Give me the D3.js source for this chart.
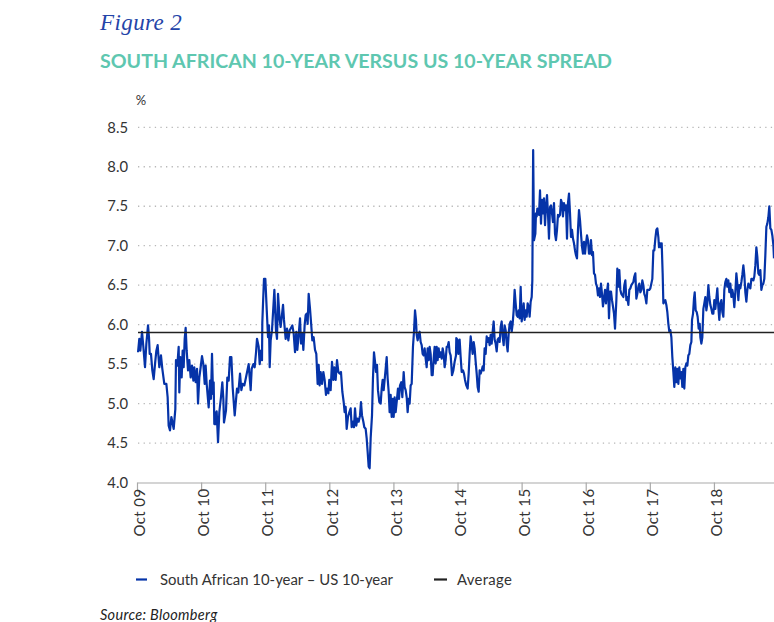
<!DOCTYPE html>
<html>
<head>
<meta charset="utf-8">
<script src="https://cdn.jsdelivr.net/npm/d3@7"></script>
<style>
  html, body { margin: 0; padding: 0; background: #fff; }
  svg { display: block; }
</style>
</head>
<body>
<svg id="chart" width="774" height="622"></svg>
<script>
// ---- DATA (decimal years, % spread) ----
const dates = [
2009.766,2009.786,2009.802,2009.828,2009.849,2009.875,2009.896,2009.922,2009.937,2009.948,2009.968,2009.989,
2010.010,2010.031,2010.052,2010.072,2010.098,2010.124,2010.145,2010.176,2010.208,2010.228,2010.244,2010.265,
2010.286,2010.322,2010.348,2010.358,2010.379,2010.400,2010.410,2010.426,2010.447,2010.462,2010.478,2010.494,
2010.509,2010.525,2010.546,2010.566,2010.587,2010.608,2010.629,2010.644,2010.665,2010.686,2010.702,2010.722,
2010.743,2010.764,2010.785,2010.806,2010.821,2010.837,2010.868,2010.889,2010.904,2010.920,2010.936,2010.946,
2010.956,2010.967,2010.977,2010.993,2011.014,2011.034,2011.060,2011.081,2011.097,2011.107,2011.138,2011.159,
2011.180,2011.201,2011.222,2011.242,2011.274,2011.294,2011.310,2011.331,2011.357,2011.378,2011.398,2011.424,
2011.450,2011.492,2011.523,2011.539,2011.565,2011.586,2011.607,2011.622,2011.648,2011.664,2011.684,2011.700,
2011.705,2011.716,2011.731,2011.752,2011.773,2011.794,2011.809,2011.820,2011.835,2011.856,2011.893,2011.918,
2011.934,2011.950,2011.976,2011.991,2012.028,2012.043,2012.069,2012.090,2012.111,2012.132,2012.173,2012.194,
2012.215,2012.235,2012.251,2012.272,2012.293,2012.308,2012.329,2012.345,2012.365,2012.381,2012.397,2012.412,
2012.428,2012.449,2012.464,2012.485,2012.506,2012.527,2012.547,2012.568,2012.584,2012.599,2012.615,2012.636,
2012.657,2012.677,2012.698,2012.714,2012.735,2012.750,2012.771,2012.792,2012.813,2012.828,2012.849,2012.870,
2012.891,2012.911,2012.932,2012.953,2012.974,2012.989,2013.005,2013.021,2013.041,2013.062,2013.083,2013.099,
2013.119,2013.135,2013.151,2013.171,2013.187,2013.208,2013.229,2013.244,2013.260,2013.281,2013.296,2013.317,
2013.333,2013.348,2013.364,2013.379,2013.395,2013.416,2013.431,2013.447,2013.463,2013.478,2013.494,2013.509,
2013.530,2013.551,2013.567,2013.582,2013.598,2013.613,2013.629,2013.645,2013.660,2013.676,2013.691,2013.707,
2013.723,2013.738,2013.754,2013.769,2013.785,2013.806,2013.821,2013.837,2013.853,2013.873,2013.889,2013.910,
2013.925,2013.941,2013.957,2013.972,2013.988,2014.003,2014.019,2014.035,2014.055,2014.071,2014.087,2014.102,
2014.113,2014.128,2014.144,2014.159,2014.175,2014.191,2014.206,2014.222,2014.237,2014.253,2014.269,2014.284,
2014.300,2014.315,2014.331,2014.347,2014.362,2014.378,2014.393,2014.409,2014.425,2014.440,2014.456,2014.471,
2014.487,2014.503,2014.518,2014.534,2014.549,2014.565,2014.581,2014.596,2014.612,2014.627,2014.643,2014.664,
2014.685,2014.705,2014.726,2014.731,2014.747,2014.763,2014.783,2014.799,2014.815,2014.835,2014.851,2014.867,
2014.887,2014.908,2014.924,2014.939,2014.955,2014.971,2014.986,2015.002,2015.017,2015.033,2015.049,2015.064,
2015.080,2015.095,2015.111,2015.127,2015.142,2015.158,2015.173,2015.189,2015.205,2015.220,2015.236,2015.251,
2015.267,2015.283,2015.298,2015.314,2015.329,2015.345,2015.361,2015.376,2015.392,2015.407,2015.423,2015.439,
2015.454,2015.470,2015.485,2015.501,2015.517,2015.532,2015.548,2015.563,2015.579,2015.595,2015.610,2015.626,
2015.641,2015.657,2015.673,2015.688,2015.704,2015.719,2015.735,2015.751,2015.766,2015.782,2015.797,2015.813,
2015.829,2015.844,2015.860,2015.875,2015.891,2015.907,2015.917,2015.930,2015.943,2015.964,2015.974,2015.985,
2015.995,2016.005,2016.021,2016.037,2016.052,2016.068,2016.083,2016.099,2016.115,2016.130,2016.146,2016.161,
2016.177,2016.193,2016.208,2016.224,2016.239,2016.255,2016.271,2016.286,2016.302,2016.317,2016.333,2016.349,
2016.364,2016.380,2016.395,2016.411,2016.427,2016.442,2016.458,2016.473,2016.489,2016.505,2016.520,2016.536,
2016.551,2016.567,2016.583,2016.598,2016.614,2016.629,2016.645,2016.661,2016.676,2016.692,2016.707,2016.723,
2016.739,2016.754,2016.770,2016.785,2016.801,2016.817,2016.832,2016.848,2016.863,2016.879,2016.895,2016.910,
2016.926,2016.941,2016.957,2016.973,2016.988,2017.004,2017.019,2017.035,2017.051,2017.066,2017.082,2017.097,
2017.113,2017.129,2017.144,2017.160,2017.175,2017.191,2017.207,2017.228,2017.243,2017.259,2017.274,2017.290,
2017.306,2017.321,2017.337,2017.352,2017.368,2017.384,2017.399,2017.415,2017.430,2017.446,2017.462,2017.477,
2017.493,2017.508,2017.524,2017.540,2017.555,2017.571,2017.586,2017.602,2017.618,2017.633,2017.649,2017.664,
2017.680,2017.696,2017.711,2017.727,2017.742,2017.758,2017.774,2017.789,2017.805,2017.820,2017.836,2017.852,
2017.867,2017.883,2017.893,2017.909,2017.924,2017.935,2017.950,2017.961,2017.976,2017.992,2018.008,2018.023,
2018.039,2018.054,2018.070,2018.086,2018.101,2018.117,2018.132,2018.148,2018.164,2018.179,2018.195,2018.210,
2018.226,2018.242,2018.257,2018.273,2018.288,2018.304,2018.320,2018.335,2018.351,2018.366,2018.382,2018.398,
2018.408,2018.424,2018.439,2018.450,2018.465,2018.481,2018.496,2018.512,2018.528,2018.538,2018.554,2018.569,
2018.585,2018.600,2018.616,2018.632,2018.647,2018.663,2018.678,2018.694,2018.710,2018.725,2018.741,2018.756,
2018.772,2018.788,2018.803,2018.819,2018.834,2018.850,2018.866,2018.881,2018.897,2018.912,2018.928,2018.944,
2018.959,2018.975,2018.990,2019.006,2019.022,2019.037,2019.053,2019.068,2019.084,2019.100,2019.115,2019.131,
2019.146,2019.162,2019.178,2019.193,2019.209,2019.224,2019.240,2019.256,2019.271,2019.287,2019.302,2019.318,
2019.334,2019.349,2019.365,2019.380,2019.396,2019.412,2019.427,2019.443,2019.458,2019.474,2019.490,2019.505,
2019.521,2019.536,2019.552,2019.568,2019.583,2019.599,2019.614,2019.630,2019.646,2019.661,2019.677,2019.687
];
const spread = [
5.65,5.82,5.67,5.91,5.72,5.46,5.76,5.99,5.84,5.63,5.63,5.42,
5.31,5.50,5.67,5.74,5.46,5.61,5.44,5.25,5.25,5.08,4.72,4.66,
4.83,4.68,4.93,5.55,5.48,5.72,5.14,5.59,5.33,5.67,5.46,5.82,
5.96,5.67,5.42,5.55,5.33,5.48,5.29,5.46,5.27,5.44,5.00,5.33,
5.46,5.60,5.50,5.25,5.48,5.25,4.95,5.29,5.06,5.63,5.12,5.27,
4.74,4.89,4.74,4.90,4.51,4.89,5.08,5.27,5.06,4.76,4.91,5.33,
5.29,5.59,5.59,5.21,4.85,5.04,5.19,5.14,5.38,5.17,5.25,5.23,
5.33,5.50,5.17,5.44,5.50,5.46,5.65,5.82,5.72,5.50,5.67,5.55,
6.03,6.27,6.58,6.58,6.20,5.84,5.99,5.46,5.80,5.93,6.44,5.93,
5.82,6.39,6.06,5.97,6.25,6.06,5.82,5.95,5.80,5.93,5.99,5.89,
5.65,5.91,5.68,5.87,6.08,5.76,5.89,5.68,5.99,6.12,6.14,6.01,
6.39,6.20,6.04,5.80,5.84,5.68,5.63,5.25,5.49,5.23,5.40,5.25,
5.40,5.30,5.11,5.19,5.13,5.30,5.17,5.53,5.30,5.46,5.30,5.55,
5.40,5.38,5.40,5.15,5.02,4.89,4.96,4.68,4.83,4.89,4.94,4.70,
4.77,4.70,4.94,4.72,4.81,4.77,4.85,5.02,4.85,4.77,4.70,4.68,
4.56,4.39,4.20,4.18,4.56,4.85,5.32,5.65,5.53,5.40,5.49,5.17,
5.02,5.00,5.19,5.30,5.17,5.30,5.44,5.59,5.32,5.15,4.89,5.11,
4.83,5.06,4.83,5.08,4.89,5.06,5.19,5.06,5.23,5.27,5.08,5.40,
5.21,5.17,5.08,4.89,5.06,5.00,5.23,5.25,5.72,5.91,6.18,6.06,
5.87,5.80,5.87,5.91,5.78,5.74,5.63,5.61,5.70,5.57,5.46,5.70,
5.55,5.72,5.63,5.36,5.36,5.57,5.72,5.51,5.72,5.55,5.70,5.59,
5.65,5.57,5.70,5.63,5.46,5.55,5.72,5.72,5.78,5.65,5.61,5.36,
5.42,5.53,5.61,5.83,5.81,5.63,5.81,5.59,5.40,5.42,5.38,5.30,
5.23,5.19,5.38,5.63,5.85,5.74,5.63,5.78,5.70,5.53,5.38,5.21,
5.15,5.42,5.38,5.42,5.47,5.42,5.70,5.63,5.85,5.78,5.83,5.74,
5.87,5.76,5.91,6.04,5.81,5.76,5.66,5.81,5.83,5.78,5.97,6.04,
5.85,5.74,5.99,5.93,5.76,5.66,5.89,6.01,6.04,5.91,6.01,6.18,
6.44,6.27,6.12,6.10,6.18,6.08,6.48,6.04,6.14,6.27,6.06,6.18,
6.10,6.27,6.23,6.10,6.29,6.35,6.56,8.21,7.07,7.15,7.41,7.37,
7.47,7.43,7.39,7.70,7.28,7.58,7.41,7.60,7.26,7.49,7.64,7.41,
7.09,7.49,7.51,7.41,7.30,7.54,7.15,7.07,7.20,7.39,7.37,7.39,
7.58,7.54,7.37,7.54,7.45,7.51,7.09,7.54,7.66,7.41,7.11,7.20,
7.09,7.03,6.94,6.88,6.84,7.20,7.45,7.32,7.15,6.99,6.90,7.05,
6.90,7.03,7.13,7.07,6.90,6.90,7.07,6.88,6.92,6.65,6.63,6.52,
6.48,6.37,6.46,6.35,6.52,6.39,6.23,6.33,6.44,6.27,6.42,6.52,
6.08,6.42,6.42,6.31,6.23,6.14,5.95,6.31,6.71,6.48,6.69,6.44,
6.39,6.37,6.35,6.50,6.56,6.31,6.35,6.25,6.44,6.46,6.50,6.52,
6.54,6.61,6.65,6.33,6.39,6.48,6.52,6.41,6.44,6.56,6.50,6.39,
6.35,6.27,6.44,6.44,6.44,6.46,6.52,6.58,6.94,6.94,7.09,7.20,
7.22,7.11,6.98,7.03,6.98,7.03,6.65,6.27,6.29,6.31,6.25,6.16,
6.01,5.91,5.93,5.84,5.59,5.40,5.21,5.46,5.27,5.44,5.25,5.46,
5.32,5.40,5.21,5.44,5.19,5.46,5.51,5.48,5.61,5.63,5.74,5.78,
6.06,6.14,6.33,6.41,6.18,6.16,6.10,5.95,6.01,5.84,5.76,5.84,
6.20,6.27,6.35,6.18,6.27,6.50,6.35,6.25,6.20,6.14,6.14,6.31,
6.20,6.33,6.46,6.22,6.06,6.27,6.31,6.16,6.10,6.44,6.54,6.58,
6.48,6.56,6.41,6.52,6.35,6.44,6.37,6.22,6.41,6.65,6.52,6.31,
6.50,6.46,6.54,6.63,6.75,6.63,6.41,6.29,6.44,6.52,6.48,6.46,
6.58,6.58,6.56,6.61,6.75,6.98,6.86,6.65,6.63,6.69,6.44,6.50,
6.52,6.58,6.88,7.24,7.28,7.36,7.50,7.22,7.20,7.13,7.01,6.84
];
const average = 5.9;
const yTicks = [4.0, 4.5, 5.0, 5.5, 6.0, 6.5, 7.0, 7.5, 8.0, 8.5];
const xTickYears = [2009, 2010, 2011, 2012, 2013, 2014, 2015, 2016, 2017, 2018];
const xTickLabels = ["Oct 09","Oct 10","Oct 11","Oct 12","Oct 13","Oct 14","Oct 15","Oct 16","Oct 17","Oct 18"];
const seriesLabel = "South African 10-year \u2013 US 10-year";
const averageLabel = "Average";

// ---- DRAWING ----
const svg = d3.select("#chart");
const W = 774, H = 622;
const BLUE = "#0533a8";
const TEAL = "#5ec7b0";
const TEXT = "#333333";
const FONT = "Lato, 'Open Sans', sans-serif";

const x = d3.scaleLinear().domain([2009.75, 2019.687]).range([137, 774]);
const y = d3.scaleLinear().domain([4.0, 8.5]).range([482.5, 127.3]);

// Header
svg.append("text").attr("x", 100).attr("y", 30)
  .attr("font-family", "'Liberation Serif', 'DejaVu Serif', serif")
  .attr("font-style", "italic").attr("font-size", 23).attr("letter-spacing", 0.4)
  .attr("fill", "#2444a8")
  .text("Figure 2");
svg.append("text").attr("x", 100).attr("y", 67.5)
  .attr("font-family", FONT).attr("font-weight", 700)
  .attr("font-size", 19.6).attr("fill", TEAL)
  .text("SOUTH AFRICAN 10-YEAR VERSUS US 10-YEAR SPREAD");

// unit
svg.append("text").attr("x", 141).attr("y", 105).attr("text-anchor", "middle")
  .attr("font-family", FONT).attr("font-size", 13).attr("fill", TEXT).text("%");

// gridlines (dotted)
svg.append("g").selectAll("line").data(yTicks.filter(v => v > 4.0)).join("line")
  .attr("x1", 138).attr("x2", W)
  .attr("y1", d => y(d)).attr("y2", d => y(d))
  .attr("stroke", "#b8b8b8").attr("stroke-width", 1.3)
  .attr("stroke-dasharray", "1.3,4.3");

// y labels
const yAxis = d3.axisLeft(y).tickValues(yTicks).tickFormat(d3.format(".1f")).tickSize(0).tickPadding(0);
const gy = svg.append("g").attr("transform", "translate(128,0)").call(yAxis);
gy.select(".domain").remove();
gy.selectAll("text").attr("font-family", FONT).attr("font-size", 14.8).attr("fill", TEXT);

// x axis
const xAxis = d3.axisBottom(x)
  .tickValues(xTickYears.map(yr => yr + 0.75))
  .tickFormat((d, i) => xTickLabels[i])
  .tickSize(9).tickSizeOuter(0).tickPadding(6);
const gx = svg.append("g").attr("transform", "translate(0,482.5)").call(xAxis);
gx.select(".domain").attr("stroke", "#a9a9a9").attr("stroke-width", 1.2);
gx.selectAll(".tick line").attr("stroke", "#a9a9a9").attr("stroke-width", 1.2);
gx.selectAll("text")
  .attr("font-family", FONT).attr("font-size", 15).attr("letter-spacing", 0.4).attr("fill", TEXT)
  .attr("text-anchor", "end")
  .attr("x", -6).attr("y", 0).attr("dy", "0.38em").attr("dx", 0)
  .attr("transform", "translate(2,0) rotate(-90)");

// series line
const line = d3.line().x((d, i) => x(dates[i])).y(d => y(d));
svg.append("path").datum(spread)
  .attr("d", line).attr("fill", "none")
  .attr("stroke", BLUE).attr("stroke-width", 2.2)
  .attr("stroke-linejoin", "round");

// average line
svg.append("line").attr("x1", 138).attr("x2", W)
  .attr("y1", y(average)).attr("y2", y(average))
  .attr("stroke", "#222").attr("stroke-width", 1.5);

// legend
const lg = svg.append("g").attr("font-family", FONT).attr("font-size", 14.9).attr("fill", TEXT);
lg.append("line").attr("x1", 136).attr("x2", 147).attr("y1", 579.5).attr("y2", 579.5)
  .attr("stroke", BLUE).attr("stroke-width", 2.2);
lg.append("text").attr("x", 160).attr("y", 584.5).text(seriesLabel);
lg.append("line").attr("x1", 434).attr("x2", 447).attr("y1", 579.5).attr("y2", 579.5)
  .attr("stroke", "#222").attr("stroke-width", 2.2);
lg.append("text").attr("x", 457).attr("y", 584.5).attr("letter-spacing", 0.3).text(averageLabel);

// source
svg.append("text").attr("x", 100).attr("y", 620)
  .attr("font-family", FONT).attr("font-style", "italic").attr("font-size", 14.5)
  .attr("letter-spacing", 0.3).attr("fill", "#222")
  .text("Source: Bloomberg");
</script>
</body>
</html>
